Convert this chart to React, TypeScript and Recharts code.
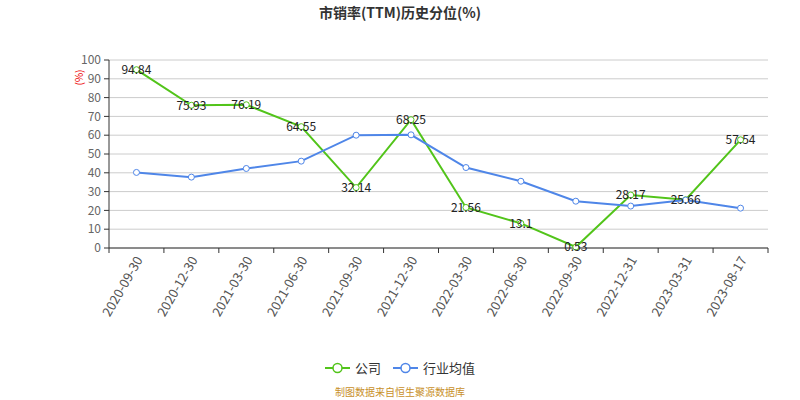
import { LineChart, Line, XAxis, YAxis, CartesianGrid, LabelList } from 'recharts'

const dates = [
  '2020-09-30', '2020-12-30', '2021-03-30', '2021-06-30', '2021-09-30', '2021-12-30',
  '2022-03-30', '2022-06-30', '2022-09-30', '2022-12-31', '2023-03-31', '2023-08-17',
]
const company = [94.84, 75.93, 76.19, 64.55, 32.14, 68.25, 21.56, 13.1, 0.53, 28.17, 25.66, 57.54]
const industry = [40.2, 37.7, 42.3, 46.2, 60.0, 60.2, 42.8, 35.5, 24.9, 22.3, 25.5, 21.2]
const yTicks = [0, 10, 20, 30, 40, 50, 60, 70, 80, 90, 100]

const data = dates.map((d, i) => ({ date: d, company: company[i], industry: industry[i] }))

const GREEN = '#52c41a'
const BLUE = '#4f86e8'
const FONT = "'Noto Sans CJK SC', 'Microsoft YaHei', sans-serif"
const HALF_BAND = (800 - 109 - 32) / dates.length / 2

function DateTick(props: any) {
  const { x, y, payload, index } = props
  const axisY = y - 7
  const tx = x + 2
  const ty = axisY + 9
  return (
    <g>
      <line x1={x - HALF_BAND} x2={x - HALF_BAND} y1={axisY} y2={axisY + 5} stroke="#333" />
      {index === dates.length - 1 && (
        <line x1={x + HALF_BAND} x2={x + HALF_BAND} y1={axisY} y2={axisY + 5} stroke="#333" />
      )}
      <text
        x={tx}
        y={ty}
        textAnchor="end"
        dominantBaseline="central"
        fill="#555"
        fontSize={13}
        fontFamily={FONT}
        transform={`rotate(-60 ${tx} ${ty})`}
      >
        {payload.value}
      </text>
    </g>
  )
}

function LegendBox() {
  const items = [
    { name: '公司', color: GREEN },
    { name: '行业均值', color: BLUE },
  ]
  return (
    <div style={{ position: 'absolute', top: 358, width: 800, display: 'flex', justifyContent: 'center', gap: 12, fontSize: 13, color: '#333' }}>
      {items.map((it) => (
        <div key={it.name} style={{ display: 'flex', alignItems: 'center', gap: 5 }}>
          <svg width={25} height={12}>
            <line x1={0} x2={25} y1={6} y2={6} stroke={it.color} strokeWidth={2} />
            <circle cx={12.5} cy={6} r={4.5} fill="#fff" stroke={it.color} strokeWidth={1.5} />
          </svg>
          <span>{it.name}</span>
        </div>
      ))}
    </div>
  )
}

export default function App() {
  return (
    <div style={{ position: 'absolute', left: 0, top: 0, width: 800, height: 400, background: '#fff', fontFamily: FONT, overflow: 'hidden' }}>
      <div style={{ position: 'absolute', top: 2, width: 800, textAlign: 'center', fontSize: 14, fontWeight: 'bold', color: '#333' }}>
        市销率(TTM)历史分位(%)
      </div>
      <div
        style={{
          position: 'absolute', left: 71, top: 70, fontSize: 10, color: '#e00',
          transform: 'rotate(-90deg)', transformOrigin: 'center',
        }}
      >
        (%)
      </div>
      <LineChart width={800} height={400} data={data} margin={{ top: 60, right: 32, left: 59, bottom: 72 }}>
        <CartesianGrid horizontal vertical={false} stroke="#ccc" />
        <XAxis
          dataKey="date"
          scale="band"
          interval={0}
          height={80}
          tickLine={false}
          tickSize={5}
          tickMargin={2}
          axisLine={{ stroke: '#333' }}
          tick={<DateTick />}
        />
        <YAxis
          domain={[0, 100]}
          ticks={yTicks}
          interval={0}
          width={50}
          tickSize={5}
          tickMargin={3}
          axisLine={{ stroke: '#333' }}
          tickLine={{ stroke: '#333' }}
          tick={{ fill: '#666', fontSize: 12, fontFamily: FONT }}
        />
        <Line
          dataKey="company"
          name="公司"
          stroke={GREEN}
          strokeWidth={2}
          dot={{ r: 3, fill: '#fff', stroke: GREEN, strokeWidth: 1 }}
          isAnimationActive={false}
        >
          <LabelList dataKey="company" position="center" fill="#222" fontSize={12} fontFamily={FONT} />
        </Line>
        <Line
          dataKey="industry"
          name="行业均值"
          stroke={BLUE}
          strokeWidth={2}
          dot={{ r: 3, fill: '#fff', stroke: BLUE, strokeWidth: 1 }}
          isAnimationActive={false}
        />
      </LineChart>
      <LegendBox />
      <div style={{ position: 'absolute', top: 385, width: 800, textAlign: 'center', fontSize: 10, lineHeight: '14px', color: '#c8902a' }}>
        制图数据来自恒生聚源数据库
      </div>
    </div>
  )
}
